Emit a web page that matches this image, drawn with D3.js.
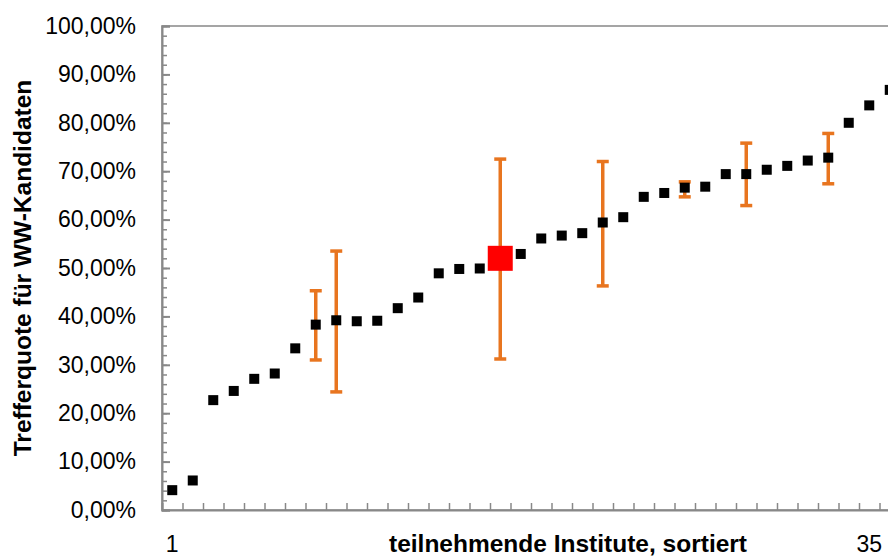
<!DOCTYPE html>
<html>
<head>
<meta charset="utf-8">
<script src="https://cdn.jsdelivr.net/npm/d3@7"></script>
<style>
  body { margin: 0; background: #fff; }
  svg { display: block; font-family: "Liberation Sans", Arial, sans-serif; }
</style>
</head>
<body>
<svg width="888" height="556"></svg>
<script>
// Trefferquote je Institut (sortiert), in Prozent
var institutes = d3.range(1, 37);
var quotes = [4.1, 6.1, 22.7, 24.6, 27.1, 28.2, 33.4, 38.3, 39.2, 39.0,
              39.1, 41.7, 43.9, 48.9, 49.8, 49.9, 52.0, 52.9, 56.1, 56.7,
              57.2, 59.4, 60.5, 64.7, 65.5, 66.6, 66.8, 69.4, 69.4, 70.3,
              71.1, 72.2, 72.8, 80.0, 83.6, 86.8];
var highlighted = 17;

// Fehlerbalken
var errInstitute = [8, 9, 17, 22, 26, 29, 33];
var errUpper = [45.3, 53.5, 72.5, 72.0, 67.8, 75.8, 77.8];
var errLower = [31.0, 24.4, 31.2, 46.3, 64.7, 62.9, 67.4];

var yTicks = d3.range(0, 101, 10);
var yMinor = d3.range(0, 101, 2);
var xLabels = [1, 35];

var svg = d3.select("svg"),
    plotLeft = 162, plotTop = 26, plotBottom = 510,
    step = 20.5;

var x = d3.scaleLinear().domain([0, institutes.length]).range([plotLeft, plotLeft + institutes.length * step]);
var y = d3.scaleLinear().domain([0, 100]).range([plotBottom, plotTop]);
var axisColor = "#888";
var orange = "#E8751F";

// plot area border
svg.append("rect")
    .attr("x", plotLeft).attr("y", plotTop)
    .attr("width", x.range()[1] - plotLeft).attr("height", plotBottom - plotTop)
    .attr("fill", "none").attr("stroke", axisColor).attr("stroke-width", 1.5);

// y axis minor ticks
var yMinorAxis = svg.append("g")
    .attr("transform", "translate(" + plotLeft + ",0)")
    .call(d3.axisLeft(y).tickValues(yMinor).tickSize(-5).tickFormat(""));
yMinorAxis.select(".domain").remove();

// y axis major ticks and labels
var yAxis = svg.append("g")
    .attr("transform", "translate(" + plotLeft + ",0)")
    .call(d3.axisLeft(y).tickValues(yTicks).tickSize(-8).tickPadding(26)
      .tickFormat(function(d) { return d + ",00%"; }));
yAxis.selectAll("text").attr("font-size", 23).attr("fill", "#000")
    .attr("font-family", "Liberation Sans, Arial, sans-serif");

// x axis ticks at category boundaries
var xAxis = svg.append("g")
    .attr("transform", "translate(0," + plotBottom + ")")
    .call(d3.axisBottom(x).tickValues(d3.range(1, institutes.length)).tickSize(-7).tickFormat(""));

svg.selectAll(".domain, .tick line").attr("stroke", axisColor).attr("stroke-width", 2);
yMinorAxis.selectAll(".tick line").attr("stroke-width", 1.5);
xAxis.selectAll(".tick line").attr("stroke-width", 1.5);

// x labels
svg.selectAll("text.xlab")
  .data(xLabels)
  .enter().append("text")
    .attr("class", "xlab")
    .attr("x", function(d) { return x(d - 0.5); })
    .attr("y", 552)
    .attr("text-anchor", "middle")
    .attr("font-size", 23)
    .text(function(d) { return d; });

// axis titles
svg.append("text")
    .attr("x", 568).attr("y", 552)
    .attr("text-anchor", "middle")
    .attr("font-size", 24.5).attr("font-weight", "bold")
    .text("teilnehmende Institute, sortiert");

svg.append("text")
    .attr("transform", "translate(31,268) rotate(-90)")
    .attr("text-anchor", "middle")
    .attr("font-size", 24.5).attr("font-weight", "bold")
    .text("Trefferquote für WW-Kandidaten");

var plot = svg.append("g");

// error bars
var err = errInstitute.map(function(d, i) { return { i: d, hi: errUpper[i], lo: errLower[i] }; });
var eb = plot.selectAll("g.err").data(err).enter().append("g")
    .attr("stroke", orange).attr("stroke-width", 3.5);
eb.append("line")
    .attr("x1", function(d) { return x(d.i - 0.5); })
    .attr("x2", function(d) { return x(d.i - 0.5); })
    .attr("y1", function(d) { return y(d.hi); })
    .attr("y2", function(d) { return y(d.lo); });
eb.selectAll("line.cap")
  .data(function(d) { return [[d.i, d.hi], [d.i, d.lo]]; })
  .enter().append("line")
    .attr("class", "cap")
    .attr("x1", function(d) { return x(d[0] - 0.5) - 6; })
    .attr("x2", function(d) { return x(d[0] - 0.5) + 6; })
    .attr("y1", function(d) { return y(d[1]); })
    .attr("y2", function(d) { return y(d[1]); });

// markers
plot.selectAll("rect.pt")
  .data(institutes)
  .enter().append("rect")
    .attr("class", "pt")
    .attr("width", function(d) { return d === highlighted ? 25 : 10; })
    .attr("height", function(d) { return d === highlighted ? 25 : 10; })
    .attr("x", function(d) { return x(d - 0.5) - (d === highlighted ? 12.5 : 5); })
    .attr("y", function(d, i) { return y(quotes[i]) - (d === highlighted ? 12.5 : 5); })
    .attr("fill", function(d) { return d === highlighted ? "#FF0000" : "#000"; });
</script>
</body>
</html>
